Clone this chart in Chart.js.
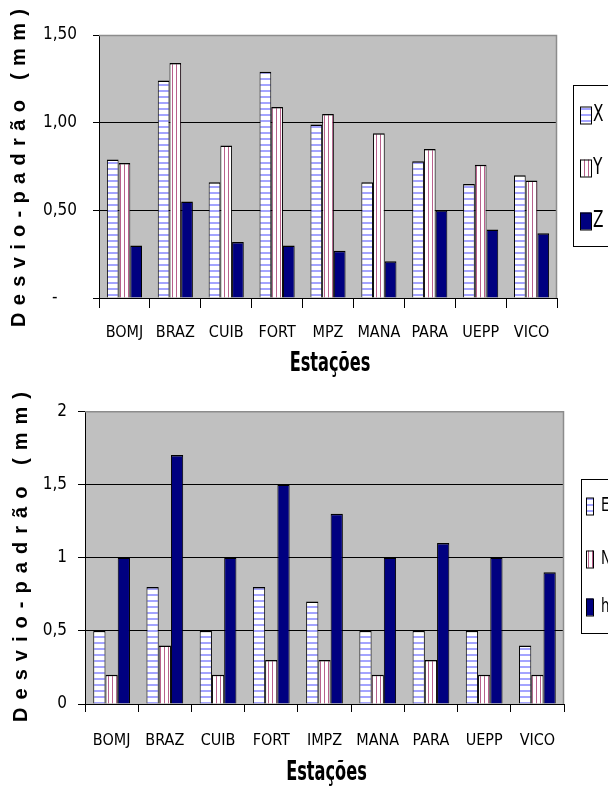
<!DOCTYPE html>
<html>
<head>
<meta charset="utf-8">
<script src="https://cdn.jsdelivr.net/npm/chart.js@4.4.1/dist/chart.umd.min.js"></script>
<style>
  body { margin: 0; background: #fff; }
  #wrap { position: relative; width: 608px; height: 787px; overflow: hidden; }
  canvas { position: absolute; left: 0; }
  #c1 { top: 0; }
  #c2 { top: 390px; }
</style>
</head>
<body>
<div id="wrap">
  <canvas id="c1" width="608" height="390"></canvas>
  <canvas id="c2" width="608" height="397"></canvas>
</div>
<script>
// ---- data ----
const stationsTop = ["BOMJ", "BRAZ", "CUIB", "FORT", "MPZ", "MANA", "PARA", "UEPP", "VICO"];
const stationsBottom = ["BOMJ", "BRAZ", "CUIB", "FORT", "IMPZ", "MANA", "PARA", "UEPP", "VICO"];

const valuesX = [0.79, 1.24, 0.66, 1.29, 0.99, 0.66, 0.78, 0.65, 0.70];
const valuesY = [0.77, 1.34, 0.87, 1.09, 1.05, 0.94, 0.85, 0.76, 0.67];
const valuesZ = [0.30, 0.55, 0.32, 0.30, 0.27, 0.21, 0.50, 0.39, 0.37];

const valuesE = [0.5, 0.8, 0.5, 0.8, 0.7, 0.5, 0.5, 0.5, 0.4];
const valuesN = [0.2, 0.4, 0.2, 0.3, 0.3, 0.2, 0.3, 0.2, 0.2];
const valuesH = [1.0, 1.7, 1.0, 1.5, 1.3, 1.0, 1.1, 1.0, 0.9];

const yTitle = "Desvio-padrão (mm)";
const xTitle = "Estações";

const NARROW = '"DejaVu Sans Condensed", "Liberation Sans", sans-serif';
Chart.defaults.font.family = NARROW;
Chart.defaults.color = "#000";

// striped fills
function stripes(horizontal) {
    const c = document.createElement("canvas");
    c.width = horizontal ? 1 : 4;
    c.height = horizontal ? 6 : 1;
    const g = c.getContext("2d");
    g.fillStyle = "#fff";
    g.fillRect(0, 0, c.width, c.height);
    g.fillStyle = horizontal ? "#a4a4ff" : "#b8608c";
    if (horizontal) g.fillRect(0, 0, 1, 2);
    else g.fillRect(0, 0, 1, 1);
    return g.createPattern(c, "repeat");
}
const fillH = stripes(true);
const fillV = stripes(false);
const fillNavy = "#000080";

// background, border, titles and legend
const decor = {
    id: "decor",
    beforeDraw(chart, args, opts) {
        const a = chart.chartArea, ctx = chart.ctx;
        ctx.save();
        ctx.fillStyle = "#c0c0c0";
        ctx.fillRect(a.left, a.top, a.right - a.left, a.bottom - a.top);
        ctx.restore();
    },
    afterDraw(chart, args, opts) {
        const a = chart.chartArea, ctx = chart.ctx;
        ctx.save();

        // gray frame on top and right
        ctx.strokeStyle = "#8c8c8c";
        ctx.lineWidth = 1.5;
        ctx.beginPath();
        ctx.moveTo(a.left, a.top + 0.5);
        ctx.lineTo(a.right - 0.5, a.top + 0.5);
        ctx.lineTo(a.right - 0.5, a.bottom);
        ctx.stroke();

        // y title, spaced out
        ctx.save();
        ctx.translate(opts.yTitleX, opts.yTitleY);
        ctx.rotate(-Math.PI / 2);
        ctx.font = 'bold 20px "Liberation Sans", Arial, sans-serif';
        ctx.letterSpacing = "0px";
        const w0 = ctx.measureText(yTitle).width;
        const sp = (opts.yTitleLen - w0) / (yTitle.length - 1);
        ctx.letterSpacing = sp + "px";
        ctx.textAlign = "left";
        ctx.textBaseline = "middle";
        ctx.fillStyle = "#000";
        ctx.fillText(yTitle, -opts.yTitleLen / 2, 0);
        ctx.restore();

        // x title
        ctx.save();
        ctx.translate((a.left + a.right) / 2 + 2, opts.xTitleY);
        ctx.scale(1, 1.45);
        ctx.font = "bold 18px " + NARROW;
        ctx.textAlign = "center";
        ctx.textBaseline = "middle";
        ctx.fillStyle = "#000";
        ctx.fillText(xTitle, 0, 0);
        ctx.restore();

        // legend
        const L = opts.legend;
        ctx.fillStyle = "#fff";
        ctx.fillRect(L.x, L.y, 60, L.h);
        ctx.strokeStyle = "#000";
        ctx.lineWidth = 1;
        ctx.strokeRect(L.x + 0.5, L.y + 0.5, 60, L.h);
        ctx.font = L.font + "px " + NARROW;
        ctx.textBaseline = "middle";
        ctx.textAlign = "left";
        chart.data.datasets.forEach((ds, i) => {
            const cy = L.rows[i];
            ctx.fillStyle = ds.backgroundColor;
            ctx.fillRect(L.sx, cy - L.sh / 2, L.sw, L.sh);
            ctx.strokeStyle = "#000";
            ctx.strokeRect(L.sx + 0.5, cy - L.sh / 2 + 0.5, L.sw, L.sh);
            ctx.fillStyle = "#000";
            ctx.save();
            ctx.translate(L.tx, cy);
            ctx.scale(1, 1.3);
            ctx.fillText(ds.label, 0, 0);
            ctx.restore();
        });

        ctx.restore();
    }
};

function makeChart(id, labels, sets, cfg) {
    return new Chart(document.getElementById(id), {
        type: "bar",
        data: {
            labels: labels,
            datasets: sets.map(s => ({
                label: s[0],
                data: s[1],
                backgroundColor: s[2],
                borderColor: "#000",
                borderWidth: { top: 1.5, left: 1, right: 1, bottom: 0 },
                categoryPercentage: 0.69,
                barPercentage: 1.0
            }))
        },
        options: {
            responsive: false,
            animation: false,
            layout: { padding: cfg.padding },
            scales: {
                x: {
                    afterFit: s => { s.height = cfg.xHeight; },
                    grid: { drawOnChartArea: false, drawTicks: true, tickLength: cfg.xTick, color: "#000", offset: true },
                    border: { color: "#000", width: 1 },
                    ticks: { font: { size: 16 }, padding: cfg.xPad, maxRotation: 0, autoSkip: false }
                },
                y: {
                    min: 0,
                    max: cfg.max,
                    afterFit: s => { s.width = cfg.yWidth; },
                    grid: { color: "#000", tickLength: cfg.yTick },
                    border: { color: "#000", width: 1 },
                    ticks: { stepSize: 0.5, font: { size: 17 }, padding: cfg.yPad, callback: cfg.fmt }
                }
            },
            plugins: {
                legend: { display: false },
                tooltip: { enabled: false },
                decor: cfg.decor
            }
        },
        plugins: [decor]
    });
}

makeChart("c1", stationsTop, [["X", valuesX, fillH], ["Y", valuesY, fillV], ["Z", valuesZ, fillNavy]], {
    padding: { left: 0, top: 35, right: 51, bottom: 0 },
    xHeight: 92, yWidth: 99, xTick: 10, yTick: 6, xPad: 15, yPad: 16, max: 1.5,
    fmt: v => v === 0 ? "-    " : v.toFixed(2).replace(".", ","),
    decor: {
        yTitleX: 19, yTitleY: 168, yTitleLen: 318, xTitleY: 364,
        legend: { x: 573, y: 85, h: 161, sx: 580, sw: 11, sh: 17, tx: 593, font: 17, rows: [115, 168, 221] }
    }
});

makeChart("c2", stationsBottom, [["E", valuesE, fillH], ["N", valuesN, fillV], ["h", valuesH, fillNavy]], {
    padding: { left: 0, top: 20, right: 44, bottom: 0 },
    xHeight: 83, yWidth: 85, xTick: 8, yTick: 7, xPad: 19, yPad: 11, max: 2,
    fmt: v => String(v).replace(".", ","),
    decor: {
        yTitleX: 21, yTitleY: 167, yTitleLen: 330, xTitleY: 383,
        legend: { x: 581, y: 89, h: 154, sx: 586, sw: 7, sh: 17, tx: 601, font: 15, rows: [116, 169, 217] }
    }
});
</script>
</body>
</html>
